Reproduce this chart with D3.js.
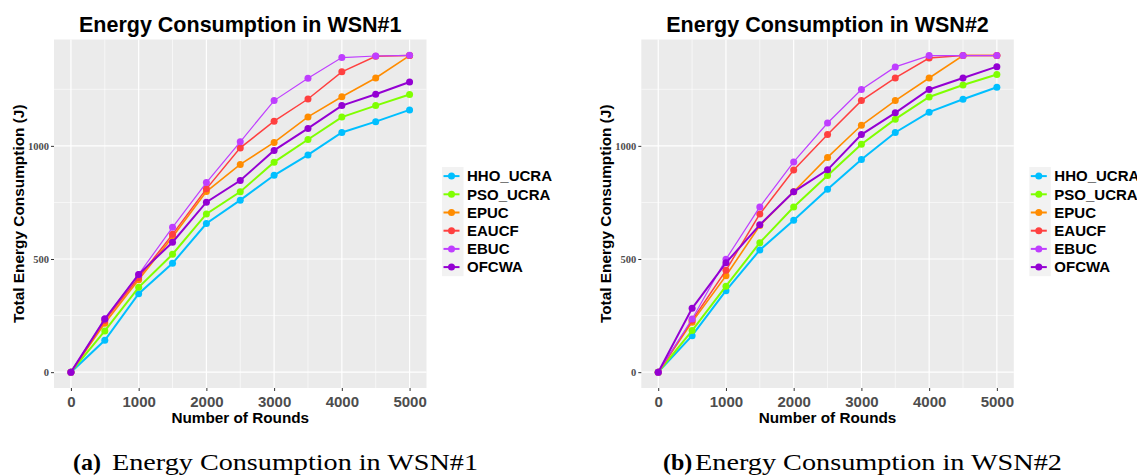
<!DOCTYPE html>
<html><head><meta charset="utf-8">
<script src="https://cdn.jsdelivr.net/npm/d3@7/dist/d3.min.js"></script>
<style>body{margin:0;background:#fff}svg{display:block}</style>
</head><body>
<svg id="c" width="1137" height="476"></svg>
<script>
const rounds = [0,500,1000,1500,2000,2500,3000,3500,4000,4500,5000];
const seriesNames = ["HHO_UCRA","PSO_UCRA","EPUC","EAUCF","EBUC","OFCWA"];
const seriesColors = ["#00bfff","#7fff00","#ff8c00","#ff4040","#bf3eff","#9400d3"];
const xTicks = [0,1000,2000,3000,4000,5000];
const yTicks = [0,500,1000];

// WSN#1
const wsn1_HHO_UCRA = [0,141,347,481,657,760,870,960,1059,1107,1159];
const wsn1_PSO_UCRA = [0,182,375,521,699,797,928,1028,1127,1178,1227];
const wsn1_EPUC     = [0,216,408,597,798,918,1015,1128,1217,1300,1399];
const wsn1_EAUCF    = [0,228,418,609,810,991,1109,1207,1327,1396,1399];
const wsn1_EBUC     = [0,236,432,640,838,1018,1200,1299,1390,1397,1400];
const wsn1_OFCWA    = [0,235,432,574,751,847,980,1077,1178,1228,1282];
// WSN#2
const wsn2_HHO_UCRA = [0,161,360,540,671,808,940,1059,1149,1206,1259];
const wsn2_PSO_UCRA = [0,184,380,572,730,869,1007,1118,1216,1269,1315];
const wsn2_EPUC     = [0,221,426,648,797,949,1091,1200,1300,1399,1399];
const wsn2_EAUCF    = [0,229,450,699,893,1050,1200,1300,1388,1399,1399];
const wsn2_EBUC     = [0,235,499,730,929,1101,1249,1349,1399,1399,1399];
const wsn2_OFCWA    = [0,282,483,651,797,894,1050,1146,1249,1300,1350];

const charts = [
  {title:"Energy Consumption in WSN#1", tag:"(a)", caption:"Energy Consumption in WSN#1",
   series:[wsn1_HHO_UCRA,wsn1_PSO_UCRA,wsn1_EPUC,wsn1_EAUCF,wsn1_EBUC,wsn1_OFCWA]},
  {title:"Energy Consumption in WSN#2", tag:"(b)", caption:"Energy Consumption in WSN#2",
   series:[wsn2_HHO_UCRA,wsn2_PSO_UCRA,wsn2_EPUC,wsn2_EAUCF,wsn2_EBUC,wsn2_OFCWA]}
];
const lineWidths = [2,2,1.6,1.5,1.2,2];

const svg = d3.select("#c");
const offsets = [0, 587.3];
const caps = [{tagX:73, textX:112, len:366},{tagX:663, textX:695, len:367}];

charts.forEach((ch, ci) => {
  const ox = offsets[ci];
  const px0 = 54 + ox, px1 = 426.5 + ox, py0 = 39.5, py1 = 388;
  const g = svg.append("g");
  const x = d3.scaleLinear().domain([-250,5250]).range([px0,px1]);
  const y = d3.scaleLinear().domain([-70,1470]).range([py1,py0]);

  g.append("rect").attr("x",px0).attr("y",py0).attr("width",px1-px0).attr("height",py1-py0).attr("fill","#ebebeb");
  // minor grid
  const xMinor = [500,1500,2500,3500,4500];
  const yMinor = [250,750,1250];
  g.selectAll(".xm").data(xMinor).enter().append("line")
    .attr("x1",d=>x(d)).attr("x2",d=>x(d)).attr("y1",py0).attr("y2",py1)
    .attr("stroke","#fff").attr("stroke-width",0.6);
  g.selectAll(".ym").data(yMinor).enter().append("line")
    .attr("y1",d=>y(d)).attr("y2",d=>y(d)).attr("x1",px0).attr("x2",px1)
    .attr("stroke","#fff").attr("stroke-width",0.6);
  g.selectAll(".xg").data(xTicks).enter().append("line")
    .attr("x1",d=>x(d)).attr("x2",d=>x(d)).attr("y1",py0).attr("y2",py1)
    .attr("stroke","#fff").attr("stroke-width",1.2);
  g.selectAll(".yg").data(yTicks).enter().append("line")
    .attr("y1",d=>y(d)).attr("y2",d=>y(d)).attr("x1",px0).attr("x2",px1)
    .attr("stroke","#fff").attr("stroke-width",1.2);

  // axes
  const xAxis = d3.axisBottom(x).tickValues(xTicks).tickSize(3).tickPadding(2).tickFormat(d3.format("d"));
  const xa = g.append("g").attr("transform",`translate(0,${py1})`).call(xAxis);
  xa.select(".domain").remove();
  xa.selectAll("line").attr("stroke","#333");
  xa.selectAll("text").attr("fill","#4d4d4d").attr("font-family","Liberation Sans, Arial, sans-serif")
    .attr("font-weight","bold").attr("font-size","15px").attr("dy","0.95em");
  const yAxis = d3.axisLeft(y).tickValues(yTicks).tickSize(3).tickPadding(2).tickFormat(d3.format("d"));
  const ya = g.append("g").attr("transform",`translate(${px0},0)`).call(yAxis);
  ya.select(".domain").remove();
  ya.selectAll("line").attr("stroke","#333");
  ya.selectAll("text").attr("fill","#4d4d4d").attr("font-family","Liberation Serif, Times New Roman, serif")
    .attr("font-weight","bold").attr("font-size","10.5px");

  // lines and points
  const line = d3.line().x((d,i)=>x(rounds[i])).y(d=>y(d));
  ch.series.forEach((s, si) => {
    g.append("path").datum(s).attr("d",line).attr("fill","none")
      .attr("stroke",seriesColors[si]).attr("stroke-width",lineWidths[si]);
    g.selectAll(null).data(s).enter().append("circle")
      .attr("cx",(d,i)=>x(rounds[i])).attr("cy",d=>y(d)).attr("r",3.5)
      .attr("fill",seriesColors[si]);
  });

  // titles
  g.append("text").attr("x",(px0+px1)/2).attr("y",32).attr("text-anchor","middle")
    .attr("font-family","Liberation Sans, Arial, sans-serif").attr("font-weight","bold")
    .attr("font-size","21.5px").attr("fill","#000").text(ch.title);
  g.append("text").attr("x",(px0+px1)/2).attr("y",423).attr("text-anchor","middle")
    .attr("font-family","Liberation Sans, Arial, sans-serif").attr("font-weight","bold")
    .attr("font-size","15.3px").attr("fill","#000").text("Number of Rounds");
  g.append("text").attr("transform",`translate(${23.5+ox},${(py0+py1)/2}) rotate(-90)`)
    .attr("text-anchor","middle")
    .attr("font-family","Liberation Sans, Arial, sans-serif").attr("font-weight","bold")
    .attr("font-size","15.4px").attr("fill","#000").text("Total Energy Consumption (J)");

  // legend
  const lx = 442 + ox, ly = 167, kh = 18.2;
  const lg = g.append("g");
  lg.append("rect").attr("x",lx).attr("y",ly).attr("width",21.5).attr("height",kh*6).attr("fill","#f2f2f2");
  seriesNames.forEach((n, si) => {
    const cy = ly + kh*si + kh/2;
    lg.append("line").attr("x1",lx+1.5).attr("x2",lx+17.5).attr("y1",cy).attr("y2",cy)
      .attr("stroke",seriesColors[si]).attr("stroke-width",2);
    lg.append("circle").attr("cx",lx+9.5).attr("cy",cy).attr("r",3.5).attr("fill",seriesColors[si]);
    lg.append("text").attr("x",lx+25).attr("y",cy+5.3)
      .attr("font-family","Liberation Sans, Arial, sans-serif").attr("font-weight","bold")
      .attr("font-size","15px").attr("fill","#000").text(n);
  });

  // caption
  const cp = caps[ci];
  svg.append("text").attr("x",cp.tagX).attr("y",470)
    .attr("font-family","Liberation Serif, Times New Roman, serif").attr("font-weight","bold")
    .attr("font-size","24px").attr("fill","#000").text(ch.tag);
  svg.append("text").attr("x",cp.textX).attr("y",470)
    .attr("font-family","Liberation Serif, Times New Roman, serif")
    .attr("font-size","23px").attr("fill","#000")
    .attr("textLength",cp.len).attr("lengthAdjust","spacingAndGlyphs").text(ch.caption);
});
</script>
</body></html>
